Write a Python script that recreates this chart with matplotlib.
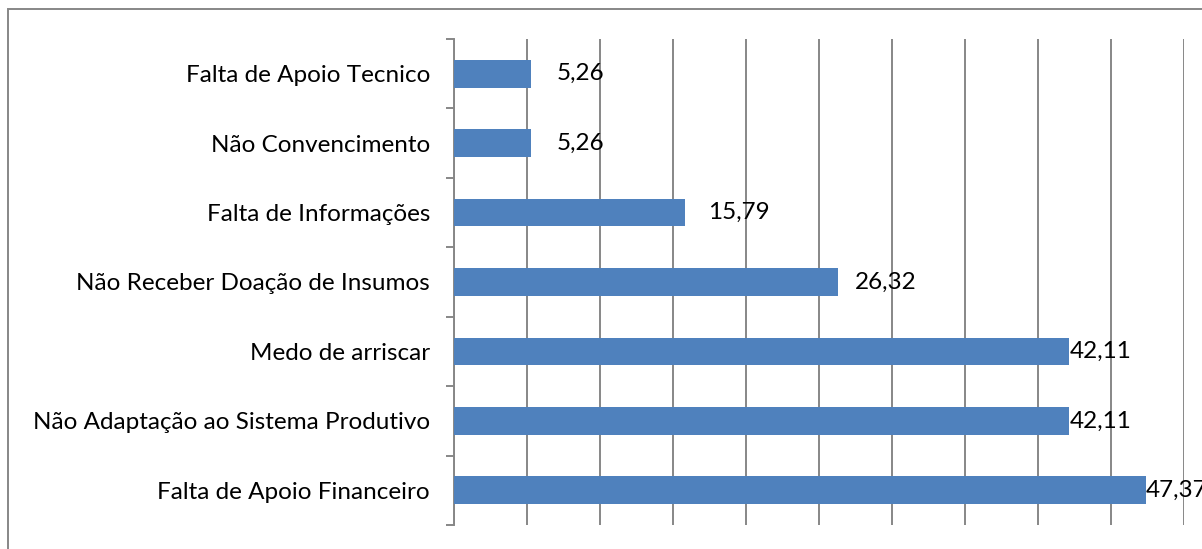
import matplotlib
matplotlib.use("Agg")
import matplotlib.pyplot as plt
from matplotlib.patches import Rectangle
from matplotlib.ticker import MultipleLocator

# categories listed bottom to top (as drawn)
categorias = [
    "Falta de Apoio Financeiro",
    "Não Adaptação ao Sistema Produtivo",
    "Medo de arriscar",
    "Não Receber Doação de Insumos",
    "Falta de Informações",
    "Não Convencimento",
    "Falta de Apoio Tecnico",
]
valores = [47.37, 42.11, 42.11, 26.32, 15.79, 5.26, 5.26]
rotulos = ["47,37", "42,11", "42,11", "26,32", "15,79", "5,26", "5,26"]

# label gaps (pixels) as placed in the original
gap_px = [0, 1, 1, 17, 24, 26, 26]

plt.rcParams['font.family'] = ['Lato', 'DejaVu Sans']

W, H = 1202, 549
px = 0.72  # points per pixel at dpi 100
fig = plt.figure(figsize=(W / 100, H / 100), dpi=100)
ax = fig.add_axes([454 / W, 1 - 525 / H, (1184 - 454) / W, (525 - 39) / H])

cor_barra = "#4F81BD"
cinza = "#878787"
fs = 17.5

pos = list(range(len(categorias)))
ax.barh(pos, valores, height=0.4, color=cor_barra, zorder=3)

ax.set_xlim(0, 50)
ax.set_ylim(-0.5, len(categorias) - 0.5)
ax.xaxis.set_major_locator(MultipleLocator(5))
ax.grid(axis="x", color=cinza, linewidth=1.4, zorder=0)
ax.tick_params(axis="x", length=0, labelbottom=False)

ax.set_yticks(pos)
ax.set_yticklabels(categorias, fontsize=fs, color="black")
ax.set_yticks([p - 0.5 for p in pos] + [len(pos) - 0.5], minor=True)
ax.tick_params(axis="y", which="major", length=0, pad=24 * px)
ax.tick_params(axis="y", which="minor", length=8 * px, width=1.4, color=cinza)

for s in ["top", "right", "bottom"]:
    ax.spines[s].set_visible(False)
ax.spines["left"].set_color(cinza)
ax.spines["left"].set_linewidth(1.4)

for p, v, r, g in zip(pos, valores, rotulos, gap_px):
    ax.annotate(r, (v, p), xytext=(g * px, 0), textcoords="offset points",
                ha="left", va="center", fontsize=fs, color="black",
                annotation_clip=False)

# outer chart frame
fig.patches.append(Rectangle((8 / W, -0.1), 1.2, 1 - 9 / H + 0.1,
                             transform=fig.transFigure, fill=False,
                             edgecolor=cinza, linewidth=1.4))

fig.savefig("out.png", dpi=100)
